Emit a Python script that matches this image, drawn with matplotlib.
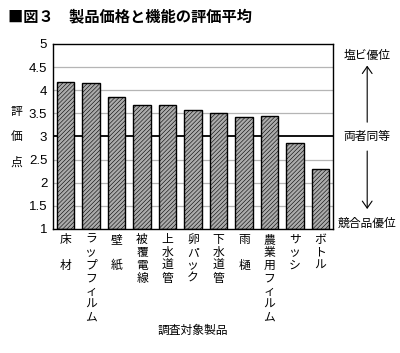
import matplotlib
matplotlib.use("Agg")
import matplotlib.pyplot as plt
from matplotlib.patches import FancyArrowPatch

plt.rcParams['font.family'] = ['Noto Sans CJK JP', 'DejaVu Sans']
plt.rcParams['hatch.color'] = '#989898'
plt.rcParams['hatch.linewidth'] = 0.4

categories = ["床\n\n材", "ラップフィルム", "壁\n\n紙", "被覆電線", "上水道管", "卵パック",
              "下水道管", "雨\n\n樋", "農業用フィルム", "サッシ", "ボトル"]
values = [4.18, 4.15, 3.85, 3.69, 3.69, 3.57, 3.50, 3.42, 3.44, 2.87, 2.29]
yticks = [1, 1.5, 2, 2.5, 3, 3.5, 4, 4.5, 5]
ytick_labels = ["1", "1.5", "2", "2.5", "3", "3.5", "4", "4.5", "5"]

fig = plt.figure(figsize=(4.0, 3.53), dpi=100)
ax = fig.add_axes([0.132, 0.3513, 0.701, 0.5241])

x = list(range(len(values)))
ax.set_xlim(-0.5, len(values) - 0.5)
ax.set_ylim(1, 5)
for t in yticks[1:-1]:
    if t == 3:
        ax.axhline(t, color='black', lw=1.3, zorder=1)
    else:
        ax.axhline(t, color='#b5b5b5', lw=0.9, zorder=1)

ax.bar(x, [v - 1 for v in values], bottom=1, width=0.7, facecolor='#ababab',
       edgecolor='black', linewidth=1.0, hatch='////////', zorder=2)

ax.set_yticks(yticks)
ax.set_yticklabels(ytick_labels, fontsize=9.5, family=['Liberation Sans', 'DejaVu Sans'])
ax.tick_params(axis='y', length=0, pad=4)
ax.set_xticks([])
for s in ax.spines.values():
    s.set_linewidth(1.0)

# vertical category labels
for i, c in enumerate(categories):
    if "\n" in c:
        label = c
    else:
        label = "\n".join(list(c))
    ax.text(i, -0.02, label, transform=ax.get_xaxis_transform(), ha='center', va='top',
            fontsize=8.5, linespacing=1.0)

fig.text(0.483, 0.065, "調査対象製品", ha='center', va='center', fontsize=8.5)

# y label stacked
for j, ch in enumerate("評価点"):
    fig.text(0.042, 0.683 - j * 0.071, ch, ha='center', va='center', fontsize=8.5)

fig.text(0.02, 0.955, "■図３　製品価格と機能の評価平均", ha='left', va='center',
         fontsize=11, fontweight='bold')

# right annotations
fig.text(0.918, 0.844, "塩ビ優位", ha='center', va='center', fontsize=8.5)
fig.text(0.918, 0.612, "両者同等", ha='center', va='center', fontsize=8.5)
fig.text(0.918, 0.368, "競合品優位", ha='center', va='center', fontsize=8.5)
fig.add_artist(FancyArrowPatch((0.918, 0.646), (0.918, 0.822),
               transform=fig.transFigure, arrowstyle='->,head_width=3.5,head_length=5',
               lw=0.8, color='black', mutation_scale=1))
fig.add_artist(FancyArrowPatch((0.918, 0.58), (0.918, 0.400),
               transform=fig.transFigure, arrowstyle='->,head_width=3.5,head_length=5',
               lw=0.8, color='black', mutation_scale=1))

fig.savefig("out.png", dpi=100, facecolor='white')
